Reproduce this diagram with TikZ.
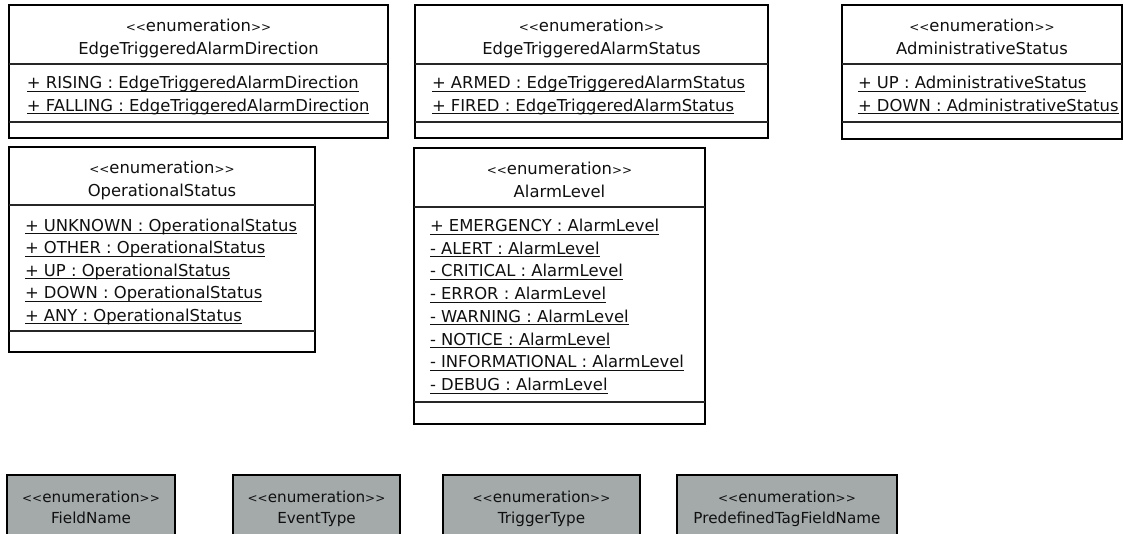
\documentclass[tikz,border=0pt]{standalone}
\usepackage{fontspec}
\setmainfont{DejaVu Sans}
\definecolor{enumgray}{RGB}{164,170,170}
\definecolor{ink}{RGB}{16,16,16}
\tikzset{
  classbox/.style={draw=black, line width=2.6pt, fill=white, inner sep=0pt, outer sep=0pt, anchor=north west},
  graybox/.style={draw=black, line width=2.6pt, fill=enumgray, inner sep=0pt, outer sep=0pt, anchor=north west},
  sepline/.style={draw=black!85, line width=1.3pt},
  uline/.style={draw=ink, line width=0.9pt},
  txt/.style={inner sep=0pt, outer sep=0pt, text=ink, font=\fontsize{16.4}{19}\selectfont},
  smalltxt/.style={inner sep=0pt, outer sep=0pt, text=ink, font=\fontsize{15.2}{18}\selectfont},
}
% small angle brackets of the stereotype (character codes keep them from joining into guillemets)
\newcommand\guil[1]{{\fontsize{12}{14}\selectfont #1}}
\newcommand\stereo{\guil{\symbol{60}\symbol{60}}enumeration\guil{\symbol{62}\symbol{62}}}
% one underlined literal of an enumeration
\newcommand\umlattr[4]{%
  \node[txt, anchor=base west] (#1) at (#2,#3) {#4};
  \draw[uline] ([yshift=-2.6pt]#1.base west) -- ([yshift=-2.6pt]#1.base east);
}
% header separator, literal separator, stereotype and name of a class box
\newcommand\classhead[5]{% box, sep1 offset, sep2 offset, name prefix, title
  \draw[sepline] ([yshift=-#2pt]#1.north west) -- ([yshift=-#2pt]#1.north east);
  \draw[sepline] ([yshift=-#3pt]#1.north west) -- ([yshift=-#3pt]#1.north east);
  \node[txt, anchor=base] (#4st) at ([yshift=-26pt]#1.north) {\stereo};
  \node[txt, anchor=base] (#4ti) at ([yshift=-49pt]#1.north) {#5};
}
\begin{document}
\begin{tikzpicture}[x=1pt, y=-1pt]
\useasboundingbox (0,0) rectangle (1124,533);
\clip (0,0) rectangle (1124,533);

% EdgeTriggeredAlarmDirection
\node[classbox, minimum width=379pt, minimum height=133pt] (dirbox) at (9,5) {};
\classhead{dirbox}{59}{117}{dir}{EdgeTriggeredAlarmDirection}
\umlattr{dirA}{27}{88.5}{+ RISING : EdgeTriggeredAlarmDirection}
\umlattr{dirB}{27}{111}{+ FALLING : EdgeTriggeredAlarmDirection}

% EdgeTriggeredAlarmStatus
\node[classbox, minimum width=353pt, minimum height=133pt] (stabox) at (415,5) {};
\classhead{stabox}{59}{117}{sta}{EdgeTriggeredAlarmStatus}
\umlattr{staA}{432}{88.5}{+ ARMED : EdgeTriggeredAlarmStatus}
\umlattr{staB}{432}{111}{+ FIRED : EdgeTriggeredAlarmStatus}

% AdministrativeStatus
\node[classbox, minimum width=280pt, minimum height=134pt] (admbox) at (842,5) {};
\classhead{admbox}{59}{117}{adm}{AdministrativeStatus}
\umlattr{admA}{858}{88.5}{+ UP : AdministrativeStatus}
\umlattr{admB}{858}{111}{+ DOWN : AdministrativeStatus}

% OperationalStatus
\node[classbox, minimum width=306pt, minimum height=205pt] (opbox) at (9,147) {};
\classhead{opbox}{58}{184}{op}{OperationalStatus}
\umlattr{opA}{25}{231}{+ UNKNOWN : OperationalStatus}
\umlattr{opB}{25}{253.5}{+ OTHER : OperationalStatus}
\umlattr{opC}{25}{276}{+ UP : OperationalStatus}
\umlattr{opD}{25}{298.5}{+ DOWN : OperationalStatus}
\umlattr{opE}{25}{321}{+ ANY : OperationalStatus}

% AlarmLevel
\node[classbox, minimum width=291pt, minimum height=276pt] (lvbox) at (414,148) {};
\classhead{lvbox}{59}{254}{lv}{AlarmLevel}
\umlattr{lvA}{430}{231.5}{+ EMERGENCY : AlarmLevel}
\umlattr{lvB}{430}{254.2}{- ALERT : AlarmLevel}
\umlattr{lvC}{430}{276.9}{- CRITICAL : AlarmLevel}
\umlattr{lvD}{430}{299.6}{- ERROR : AlarmLevel}
\umlattr{lvE}{430}{322.3}{- WARNING : AlarmLevel}
\umlattr{lvF}{430}{345}{- NOTICE : AlarmLevel}
\umlattr{lvG}{430}{367.7}{- INFORMATIONAL : AlarmLevel}
\umlattr{lvH}{430}{390.4}{- DEBUG : AlarmLevel}

% collapsed enumerations along the bottom
\node[graybox, minimum width=168pt, minimum height=90pt] (fnbox) at (7,475) {};
\node[graybox, minimum width=167pt, minimum height=90pt] (etbox) at (233,475) {};
\node[graybox, minimum width=197pt, minimum height=90pt] (ttbox) at (443,475) {};
\node[graybox, minimum width=220pt, minimum height=90pt] (ptbox) at (677,475) {};
\foreach \b/\t in {fnbox/FieldName, etbox/EventType, ttbox/TriggerType, ptbox/PredefinedTagFieldName}{
  \node[smalltxt, anchor=base] (\b st) at ([yshift=-27pt]\b.north) {\stereo};
  \node[smalltxt, anchor=base] (\b ti) at ([yshift=-48pt]\b.north) {\t};
}
\end{tikzpicture}
\end{document}
